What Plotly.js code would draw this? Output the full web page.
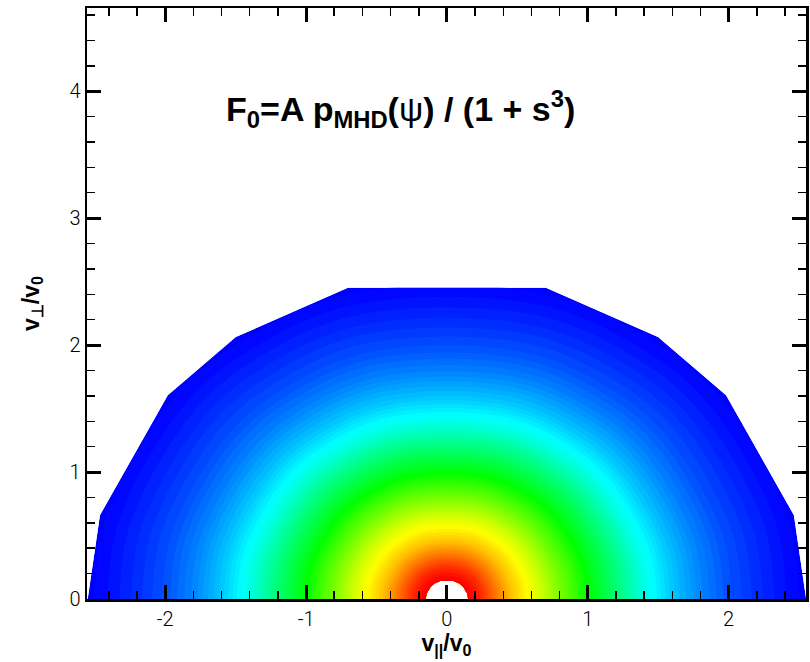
<!DOCTYPE html>
<html>
<head>
<meta charset="utf-8">
<script src="https://cdn.plot.ly/plotly-3.0.1.min.js"></script>
<style>html,body{margin:0;padding:0;background:#fff;}#chart{width:810px;height:662px;}</style>
</head>
<body>
<div id="chart"></div>
<script>
// Polar grid: pitch-angle nodes (degrees) and speed nodes (v/v0)
const angleNodes = [0, 15, 39, 54, 74, 106, 126, 141, 165, 180];
const radiusNodes = [0.15, 0.25, 0.35, 0.45, 0.55, 0.65, 0.8, 1.0, 1.2, 1.4, 1.6, 1.8, 2.0, 2.2, 2.4, 2.55];
// Normalised F0 level at each speed node
const f0Levels = [1.0, 0.95, 0.88, 0.81, 0.76, 0.71, 0.62, 0.5, 0.39, 0.28, 0.2, 0.135, 0.085, 0.05, 0.02, 0.0];

const xTickVals = [-2, -1, 0, 1, 2];
const xTickText = ['-2', '-1', '0', '1', '2'];
const yTickVals = [0, 1, 2, 3, 4];
const yTickText = ['0', '1', '2', '3', '4'];

const deg = Math.PI / 180;
const gx = angleNodes.map(t => radiusNodes.map(r => r * Math.cos(t * deg)));
const gy = angleNodes.map(t => radiusNodes.map(r => r * Math.sin(t * deg)));
const gz = angleNodes.map(() => f0Levels.slice());

const hidden = {
  showgrid: false, showline: false, showticklabels: 'none',
  startline: false, endline: false, minorgridcount: 0,
  smoothing: 0, linewidth: 0, gridwidth: 0
};

const carpet = {
  type: 'carpet', carpet: 'grid',
  a: radiusNodes, b: angleNodes, x: gx, y: gy,
  aaxis: hidden, baxis: hidden
};

const colors = [
  [0.0, 'rgb(0,0,255)'],
  [0.25, 'rgb(0,255,255)'],
  [0.5, 'rgb(0,255,0)'],
  [0.75, 'rgb(255,255,0)'],
  [1.0, 'rgb(255,0,0)']
];

const field = {
  type: 'contourcarpet', carpet: 'grid',
  z: gz, autocontour: false,
  contours: {start: 0.00625, end: 1, size: 0.0125, coloring: 'fill', showlines: false},
  line: {width: 0},
  colorscale: colors, zmin: 0, zmax: 1, showscale: false
};

const tickFont = {family: 'Roboto', size: 20, color: '#000', weight: 300};
const axisCommon = {
  showgrid: false, zeroline: false, showline: true, linecolor: '#000', linewidth: 2.5,
  mirror: 'ticks', ticks: 'inside', ticklen: 14, tickwidth: 3, tickcolor: '#000',
  tickfont: tickFont, tickmode: 'array',
  minor: {ticks: 'inside', ticklen: 8, tickwidth: 1.5, tickcolor: '#000', dtick: 0.2, showgrid: false}
};

const layout = {
  width: 810, height: 662,
  margin: {l: 87, r: 3.5, t: 7.5, b: 63.3},
  paper_bgcolor: '#fff', plot_bgcolor: '#fff',
  showlegend: false,
  xaxis: Object.assign({}, axisCommon, {
    range: [-2.555, 2.549], tickvals: xTickVals, ticktext: xTickText,
    title: {text: '<b>v<sub>||</sub>/v<sub>0</sub></b>', font: {family: 'Liberation Sans', size: 23, color: '#000'}, standoff: 2}
  }),
  yaxis: Object.assign({}, axisCommon, {
    range: [0, 4.655], tickvals: yTickVals, ticktext: yTickText,
    title: {text: '<b>v<sub>⊥</sub>/v<sub>0</sub></b>', font: {family: 'Liberation Sans', size: 23, color: '#000'}, standoff: 24}
  }),
  annotations: [{
    xref: 'x', yref: 'y', x: -1.585, y: 3.86, xanchor: 'left', yanchor: 'middle',
    text: 'F<sub>0</sub>=A p<sub>MHD</sub>(<span style="font-weight:normal">ψ</span>) / (1 + s<sup>3</sup>)',
    showarrow: false, font: {family: 'Liberation Sans', size: 34, color: '#000', weight: 'bold'}
  }]
};

Plotly.newPlot('chart', [carpet, field], layout, {displayModeBar: false, staticPlot: true});
</script>
</body>
</html>
